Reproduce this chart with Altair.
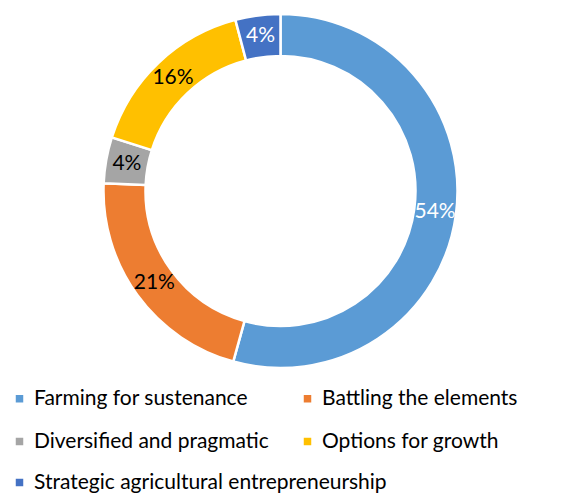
import math
import altair as alt
import pandas as pd

categories = [
    "Farming for sustenance",
    "Battling the elements",
    "Diversified and pragmatic",
    "Options for growth",
    "Strategic agricultural entrepreneurship",
]
values = [54.3, 21.4, 4.2, 16.0, 4.1]
labels = ["54%", "21%", "4%", "16%", "4%"]
colors = ["#5B9BD5", "#ED7D31", "#A5A5A5", "#FFC000", "#4472C4"]
label_colors = ["#FFFFFF", "#000000", "#000000", "#000000", "#FFFFFF"]

df = pd.DataFrame({
    "category": categories,
    "value": values,
    "label": labels,
    "lc": label_colors,
    "order": list(range(len(categories))),
})

FONT = "Lato"
OUTER, INNER = 177, 135

base = (
    alt.Chart(df)
    .transform_joinaggregate(total="sum(value)")
    .transform_window(cum="sum(value)", sort=[alt.SortField("order")], frame=[None, 0])
    .transform_calculate(
        start="(datum.cum - datum.value) / datum.total",
        end="datum.cum / datum.total",
        mid="(datum.cum - datum.value / 2) / datum.total",
    )
)

theta_scale = alt.Scale(domain=[0, 1], range=[0, 2 * math.pi])

legend_common = dict(
    title=None,
    orient="none",
    direction="horizontal",
    symbolType="square",
    symbolSize=56,
    symbolStrokeWidth=0,
    labelFont=FONT,
    labelFontSize=21,
    labelColor="#000000",
    labelOffset=4,
    rowPadding=21,
    padding=0,
    labelLimit=500,
)

arc_a = base.transform_filter(
    alt.FieldOneOfPredicate(field="category", oneOf=categories[:4])
).mark_arc(radius=OUTER, radius2=INNER, stroke="white", strokeWidth=2.5).encode(
    theta=alt.Theta("start:Q", scale=theta_scale),
    theta2="end:Q",
    color=alt.Color(
        "category:N",
        scale=alt.Scale(domain=categories[:4], range=colors[:4]),
        legend=alt.Legend(columns=2, columnPadding=28, legendX=1, legendY=380, **legend_common),
    ),
)

arc_b = base.transform_filter(
    alt.FieldOneOfPredicate(field="category", oneOf=categories[4:])
).mark_arc(radius=OUTER, radius2=INNER, stroke="white", strokeWidth=2.5).encode(
    theta=alt.Theta("start:Q", scale=theta_scale),
    theta2="end:Q",
    color=alt.Color(
        "category:N",
        scale=alt.Scale(domain=categories[4:], range=colors[4:]),
        legend=alt.Legend(legendX=1, legendY=464, **legend_common),
    ),
)

text = base.mark_text(radius=(OUTER + INNER) / 2, font=FONT, fontSize=21).encode(
    theta=alt.Theta("mid:Q", scale=theta_scale),
    text="label:N",
    color=alt.Color("lc:N", scale=None),
)

chart = (
    alt.layer(arc_a, arc_b, text)
    .resolve_scale(color="independent")
    .properties(width=545, height=366, padding=0)
    .configure_view(stroke=None)
)

chart.save("out.html", embed_options={"renderer": "svg", "actions": False})
